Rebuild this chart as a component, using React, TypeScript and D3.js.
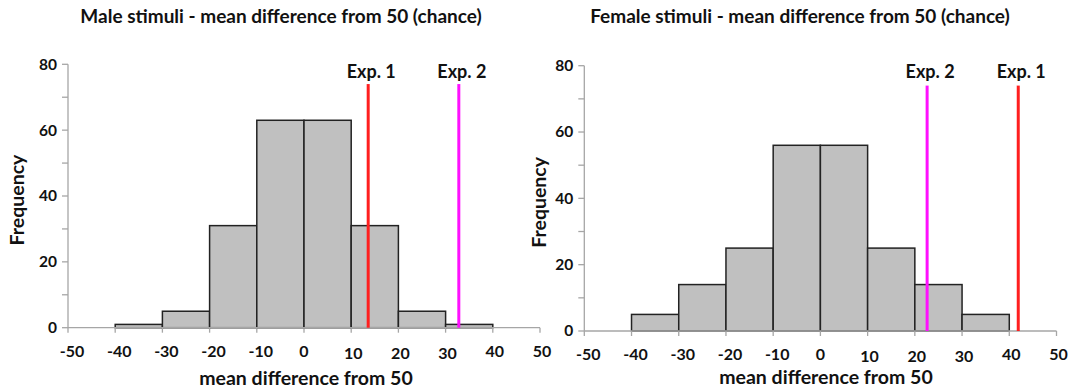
import React from "react";
import * as d3 from "d3";

// histogram bins (left edge of each 10-wide bin)
const binStarts = [-40, -30, -20, -10, 0, 10, 20, 30];
const maleCounts = [1, 5, 31, 63, 63, 31, 5, 1];
const femaleCounts = [5, 14, 25, 56, 56, 25, 14, 5];

const xTicks = [-50, -40, -30, -20, -10, 0, 10, 20, 30, 40, 50];
const yTicks = [0, 20, 40, 60, 80];
const yMinor = [0, 10, 20, 30, 40, 50, 60, 70, 80];

const maleExpLabels = ["Exp. 1", "Exp. 2"];
const maleExpValues = [13.6, 32.8];
const femaleExpLabels = ["Exp. 2", "Exp. 1"];
const femaleExpValues = [22.6, 41.9];
const expColors: Record<string, string> = { "Exp. 1": "#ff1f1f", "Exp. 2": "#ff10ff" };
const expLineTop = 74;

const FONT = "Lato, 'Open Sans', sans-serif";

type PanelProps = {
  title: string;
  titleX: number;
  counts: number[];
  expLabels: string[];
  expValues: number[];
  x0: number;
  x1: number;
  yBottom: number;
  yTop: number;
  yTitleX: number;
  xTitleX: number;
  xTitleY: number;
};

const Panel = (p: PanelProps) => {
  const x = d3.scaleLinear().domain([-50, 50]).range([p.x0, p.x1]);
  const y = d3.scaleLinear().domain([0, 80]).range([p.yBottom, p.yTop]);
  const axisColor = "#a6a6a6";

  return (
    <g>
      <text x={p.titleX} y={23} textAnchor="middle" fontSize={19} fontWeight="bold" fill="#111">
        {p.title}
      </text>

      {/* y axis */}
      <line x1={x(-50)} x2={x(-50)} y1={y(0)} y2={y(80)} stroke={axisColor} strokeWidth={1.3} />
      {yMinor.map((t) => (
        <line key={"ym" + t} x1={x(-50) - 6} x2={x(-50)} y1={y(t)} y2={y(t)} stroke={axisColor} strokeWidth={1.3} />
      ))}
      {yTicks.map((t) => (
        <text key={"yt" + t} x={x(-50) - 11} y={y(t)} dy="0.35em" textAnchor="end" fontSize={15.5} fontWeight="bold" fill="#111">
          {t}
        </text>
      ))}

      {/* bars */}
      {binStarts.map((b, i) => (
        <rect
          key={"b" + b}
          x={x(b)}
          y={y(p.counts[i])}
          width={x(b + 10) - x(b)}
          height={y(0) - y(p.counts[i])}
          fill="#c0c0c0"
          stroke="#222"
          strokeWidth={1.5}
        />
      ))}

      {/* x axis */}
      <line x1={x(-50)} x2={x(50)} y1={y(0)} y2={y(0)} stroke={axisColor} strokeWidth={1.3} />
      {xTicks.map((t) => (
        <line key={"xm" + t} x1={x(t)} x2={x(t)} y1={y(0)} y2={y(0) + 5} stroke={axisColor} strokeWidth={1.3} />
      ))}
      {xTicks.map((t) => (
        <text
          key={"xt" + t}
          x={x(t) + (t < 0 ? 4 : t > 0 ? 2 : 0)}
          y={y(0) + (t > 0 && t < 40 ? 31 : 29)}
          textAnchor="middle"
          fontSize={16}
          fontWeight="bold"
          fill="#111"
        >
          {t}
        </text>
      ))}

      {/* experiment markers */}
      {p.expValues.map((v, i) => (
        <g key={"e" + i}>
          <line x1={x(v)} x2={x(v)} y1={y(0)} y2={y(expLineTop)} stroke={expColors[p.expLabels[i]]} strokeWidth={3} />
          <text x={x(v) + 3} y={78} textAnchor="middle" fontSize={18} fontWeight="bold" fill="#111">
            {p.expLabels[i]}
          </text>
        </g>
      ))}

      {/* axis titles */}
      <text
        transform={`translate(${p.yTitleX},${(y(0) + y(80)) / 2 + 4}) rotate(-90)`}
        textAnchor="middle"
        dy="0.35em"
        fontSize={19.5}
        fontWeight="bold"
        fill="#111"
      >
        Frequency
      </text>
      <text x={p.xTitleX} y={p.xTitleY} textAnchor="middle" fontSize={19.5} fontWeight="bold" fill="#111">
        mean difference from 50
      </text>
    </g>
  );
};

const App = () => {
  return (
    <svg
      width={1069}
      height={388}
      style={{ position: "absolute", left: 0, top: 0, background: "#fff", fontFamily: FONT }}
    >
      <Panel
        title="Male stimuli - mean difference from 50 (chance)"
        titleX={281}
        counts={maleCounts}
        expLabels={maleExpLabels}
        expValues={maleExpValues}
        x0={68}
        x1={540}
        yBottom={327.7}
        yTop={64.3}
        yTitleX={17}
        xTitleX={306}
        xTitleY={385}
      />
      <Panel
        title="Female stimuli - mean difference from 50 (chance)"
        titleX={800}
        counts={femaleCounts}
        expLabels={femaleExpLabels}
        expValues={femaleExpValues}
        x0={584.3}
        x1={1056.5}
        yBottom={331}
        yTop={65.7}
        yTitleX={539}
        xTitleX={826}
        xTitleY={384}
      />
    </svg>
  );
};

export default App;
